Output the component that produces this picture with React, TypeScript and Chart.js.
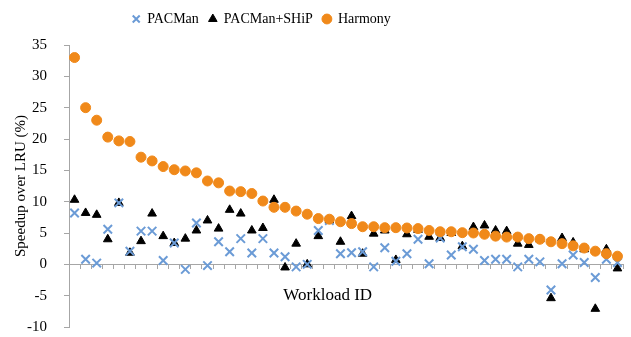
import { useEffect, useRef } from "react";
import { Chart, registerables } from "chart.js";

Chart.register(...registerables);

// Workload IDs along the x axis (labels are not printed, only tick marks)
const workloads = [
  "1", "2", "3", "4", "5", "6", "7", "8", "9", "10",
  "11", "12", "13", "14", "15", "16", "17", "18", "19", "20",
  "21", "22", "23", "24", "25", "26", "27", "28", "29", "30",
  "31", "32", "33", "34", "35", "36", "37", "38", "39", "40",
  "41", "42", "43", "44", "45", "46", "47", "48", "49", "50",
];

// Speedup over LRU (%), per workload
const pacman = [
  8.2, 0.8, 0.2, 5.6, 9.8, 2.1, 5.3, 5.3, 0.6, 3.4,
  -0.8, 6.6, -0.2, 3.6, 2.0, 4.1, 1.8, 4.1, 1.8, 1.2,
  -0.4, 0.0, 5.4, 7.0, 1.7, 1.85, 2.0, -0.4, 2.65, 0.5,
  1.7, 4.0, 0.1, 4.2, 1.5, 2.8, 2.4, 0.6, 0.8, 0.8,
  -0.4, 0.8, 0.4, -4.1, 0.1, 1.5, 0.3, -2.1, 0.8, 0.3,
];

const pacmanShip = [
  10.3, 8.2, 7.9, 4.0, 9.8, 1.85, 3.7, 8.1, 4.5, 3.4,
  4.1, 5.4, 7.0, 5.7, 8.7, 8.1, 5.4, 5.8, 10.3, -0.5,
  3.3, 0.0, 4.5, 7.0, 3.6, 7.7, 1.7, 4.9, 5.4, 0.7,
  4.8, 5.5, 4.4, 4.2, 5.0, 2.9, 5.95, 6.2, 5.4, 5.3,
  3.3, 3.1, 4.0, -5.4, 4.2, 3.5, 2.4, -7.1, 2.4, -0.65,
];

const harmony = [
  33.0, 25.0, 23.0, 20.3, 19.7, 19.6, 17.1, 16.5, 15.6, 15.1,
  14.9, 14.6, 13.3, 13.0, 11.7, 11.6, 11.3, 10.1, 9.1, 9.1,
  8.5, 8.0, 7.3, 7.2, 6.8, 6.5, 6.0, 6.0, 5.85, 5.85,
  5.8, 5.7, 5.4, 5.2, 5.2, 5.05, 5.0, 4.8, 4.5, 4.35,
  4.35, 4.1, 4.0, 3.6, 3.3, 2.95, 2.6, 2.1, 1.7, 1.3,
];

const yMin = -10;
const yMax = 35;
const yStep = 5;

const SERIF = '"Liberation Serif", "Times New Roman", serif';
const AXIS_GREY = "#a6a6a6";

// Draws the x-axis caption under the zero line and moves the legend row
// up and to the left of its default centred slot
const captionPlugin = {
  id: "workloadCaption",
  afterLayout(chart: any) {
    const lg = chart.legend;
    if (lg) {
      lg.left -= 50;
      lg.right -= 50;
      lg.top -= 9;
      lg.bottom -= 9;
    }
  },
  afterDraw(chart: any) {
    const { ctx, chartArea, scales } = chart;
    const y0 = scales.y.getPixelForValue(0);
    ctx.save();
    ctx.font = `17px ${SERIF}`;
    ctx.fillStyle = "#000";
    ctx.textAlign = "center";
    ctx.textBaseline = "middle";
    ctx.fillText(
      "Workload ID",
      chartArea.left + (chartArea.right - chartArea.left) * 0.467,
      y0 + 31
    );
    ctx.restore();
  },
};

export default function App() {
  const canvasRef = useRef<HTMLCanvasElement | null>(null);

  useEffect(() => {
    const canvas = canvasRef.current;
    if (!canvas) return;
    const chart = new Chart(canvas, {
      type: "line",
      data: {
        labels: workloads,
        datasets: [
          {
            label: "PACMan",
            data: pacman,
            showLine: false,
            pointStyle: "crossRot",
            pointRadius: 6,
            pointBorderWidth: 2,
            borderColor: "#6b9bd6",
            backgroundColor: "#6b9bd6",
            order: 1,
          },
          {
            label: "PACMan+SHiP",
            data: pacmanShip,
            showLine: false,
            pointStyle: "triangle",
            pointRadius: 5,
            pointBorderWidth: 1,
            borderColor: "#000",
            backgroundColor: "#000",
            order: 2,
          },
          {
            label: "Harmony",
            data: harmony,
            showLine: false,
            pointStyle: "circle",
            pointRadius: 5,
            pointBorderWidth: 1,
            borderColor: "#f0891a",
            backgroundColor: "#f0891a",
            order: 0,
          },
        ],
      },
      options: {
        responsive: false,
        animation: false,
        events: [],
        layout: { padding: { top: 11, left: 0, right: 8, bottom: 10 } },
        plugins: {
          tooltip: { enabled: false },
          legend: {
            display: true,
            position: "top",
            labels: {
              usePointStyle: true,
              boxWidth: 8,
              boxHeight: 7,
              padding: 10,
              color: "#000",
              font: { family: SERIF, size: 14 },
              sort: (a: any, b: any) => a.datasetIndex - b.datasetIndex,
            },
          },
        },
        scales: {
          x: {
            type: "category",
            position: { y: 0 } as any,
            offset: true,
            afterFit: (scale: any) => {
              scale.height = 0;
            },
            ticks: { display: false },
            grid: {
              offset: true,
              drawOnChartArea: false,
              drawTicks: true,
              tickLength: 4,
              color: AXIS_GREY,
            },
            border: { color: AXIS_GREY },
          },
          y: {
            min: yMin,
            max: yMax,
            afterFit: (scale: any) => {
              scale.width = 69;
              scale.paddingTop = 0;
              scale.paddingBottom = 0;
            },
            ticks: {
              stepSize: yStep,
              padding: 17,
              color: "#000",
              font: { family: SERIF, size: 15 },
            },
            grid: {
              drawOnChartArea: false,
              tickLength: 5,
              color: AXIS_GREY,
            },
            border: { color: AXIS_GREY },
            title: {
              display: true,
              text: "Speedup over LRU (%)",
              color: "#000",
              font: { family: SERIF, size: 15 },
              padding: { top: 12, bottom: 0 },
            },
          },
        },
      },
      plugins: [captionPlugin],
    });
    return () => chart.destroy();
  }, []);

  return (
    <div style={{ position: "absolute", left: 0, top: 0, width: 631, height: 337 }}>
      <canvas ref={canvasRef} width={631} height={337} style={{ display: "block" }} />
    </div>
  );
}
